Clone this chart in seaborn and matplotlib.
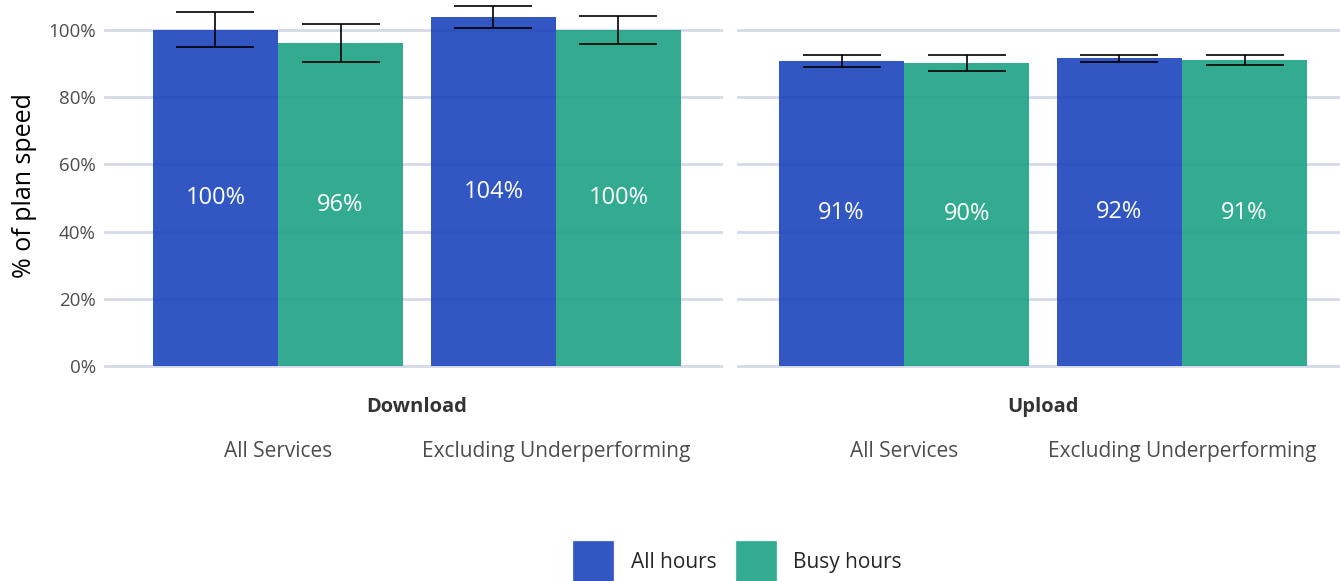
import pandas as pd
import matplotlib.pyplot as plt
import matplotlib.transforms as mtransforms
import seaborn as sns

# values (% of plan speed)
directions = ["Download", "Upload"]
groups = ["All Services", "Excluding Underperforming"]
hours = ["All hours", "Busy hours"]

download_vals = {"All hours": [99.9, 103.8], "Busy hours": [96.1, 99.9]}
download_lo = {"All hours": [95.0, 100.7], "Busy hours": [90.5, 95.9]}
download_hi = {"All hours": [105.3, 107.0], "Busy hours": [101.9, 104.1]}

upload_vals = {"All hours": [90.8, 91.6], "Busy hours": [90.2, 91.0]}
upload_lo = {"All hours": [89.0, 90.4], "Busy hours": [87.9, 89.7]}
upload_hi = {"All hours": [92.7, 92.7], "Busy hours": [92.5, 92.5]}

colors = ["#1c45bd", "#1da285"]
grid_col = "#d5d9e8"
tick_col = "#4d4d4d"

sns.set_style("white")
plt.rcParams["font.family"] = ["Open Sans", "DejaVu Sans"]

fig = plt.figure(figsize=(13.4, 5.81), dpi=100)
W, H = 1340, 581
panel_left = [104, 737]
panel_w = 619
xlims = [(-0.626, 1.601), (-0.601, 1.626)]
top_px, bottom_px = 0, 372
px_per = 3.36
zero_px = 366

panels = [(download_vals, download_lo, download_hi), (upload_vals, upload_lo, upload_hi)]

for i, (vals, lo, hi) in enumerate(panels):
    ax = fig.add_axes([panel_left[i] / W, (H - bottom_px) / H, panel_w / W, (bottom_px - top_px) / H])
    rows = []
    for h in hours:
        for g, v in zip(groups, vals[h]):
            rows.append({"group": g, "hours": h, "value": v})
    df = pd.DataFrame(rows)

    ax.yaxis.grid(True, color=grid_col, linewidth=2)
    ax.set_axisbelow(True)
    sns.barplot(data=df, x="group", y="value", hue="hours", order=groups, hue_order=hours,
                palette=colors, saturation=1, alpha=0.9, width=0.9, errorbar=None,
                linewidth=0, legend=False, ax=ax)

    for h, cont in zip(hours, ax.containers):
        xs = [b.get_x() + b.get_width() / 2 for b in cont]
        ys = vals[h]
        yerr = [[y - l for y, l in zip(ys, lo[h])], [u - y for y, u in zip(ys, hi[h])]]
        ax.errorbar(xs, ys, yerr=yerr, fmt="none", ecolor="black", elinewidth=1.2,
                    capsize=28, capthick=1.2, zorder=5)
        ax.bar_label(cont, labels=[f"{v:.0f}%" for v in ys], label_type="center",
                     color="white", fontsize=17)

    ax.set_xlim(*xlims[i])
    ax.set_ylim((zero_px - bottom_px) / px_per, (zero_px - top_px) / px_per)
    ax.set_yticks([0, 20, 40, 60, 80, 100])
    if i == 0:
        ax.set_yticklabels([f"{t}%" for t in [0, 20, 40, 60, 80, 100]], color=tick_col, fontsize=13.5)
        ax.set_ylabel("% of plan speed", fontsize=18, color="black", labelpad=8)
    else:
        ax.set_yticklabels([])
        ax.set_ylabel("")
    ax.tick_params(axis="both", length=0, pad=6)
    ax.set_xticklabels(groups, color=tick_col, fontsize=15)
    ax.tick_params(axis="x", pad=50)
    ax.set_xlabel("")
    sns.despine(ax=ax, left=True, bottom=True)
    trans = mtransforms.blended_transform_factory(ax.transData, fig.transFigure)
    ax.text(0.5, (H - 407) / H, directions[i], transform=trans, ha="center", va="center",
            fontsize=14.5, fontweight="bold", color="#333333")

# legend at the bottom
handles = [plt.Rectangle((0, 0), 1, 1, facecolor=c, alpha=0.9) for c in colors]
fig.legend(handles, hours, loc="center", bbox_to_anchor=(737 / W, 1 - 562 / H), ncol=2,
           frameon=False, fontsize=15, handlelength=2.0, handleheight=2.9,
           handletextpad=0.8, columnspacing=0.9, borderpad=0)

fig.savefig("out.png", dpi=100)
